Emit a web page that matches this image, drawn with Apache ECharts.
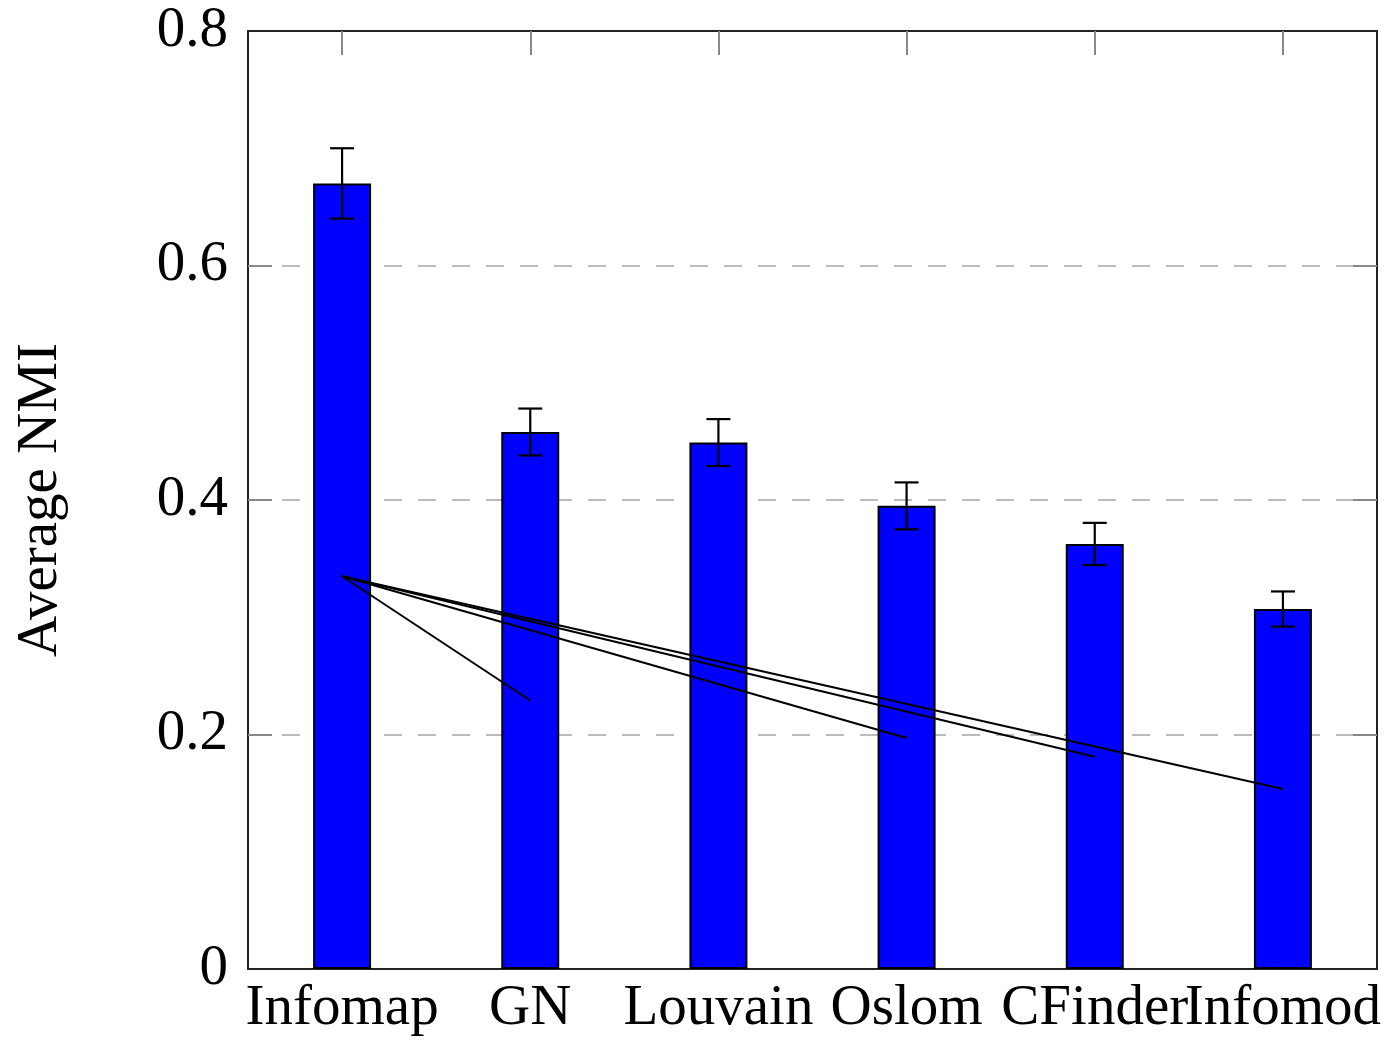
<!DOCTYPE html>
<html>
<head>
<meta charset="utf-8">
<script src="https://cdn.jsdelivr.net/npm/echarts@6/dist/echarts.min.js"></script>
<style>html,body{margin:0;padding:0;background:#fff;}#c{width:1388px;height:1042px;}</style>
</head>
<body>
<div id="c"></div>
<script>
var categories = ['Infomap', 'GN', 'Louvain', 'Oslom', 'CFinder', 'Infomod'];
var nmiValues = [0.670, 0.458, 0.449, 0.395, 0.3625, 0.307];
var nmiErrors = [0.030, 0.020, 0.020, 0.020, 0.018, 0.015];
var yTicks = [0, 0.2, 0.4, 0.6, 0.8];
var yInnerTicks = [0.2, 0.4, 0.6];
var lineStart = { cat: 'Infomap', value: 0.335 };
var lineEnds = [
  { cat: 'GN', value: 0.229 },
  { cat: 'Oslom', value: 0.197 },
  { cat: 'CFinder', value: 0.181 },
  { cat: 'Infomod', value: 0.1535 }
];

var FONT = '"Liberation Serif", "DejaVu Serif", serif';
var chart = echarts.init(document.getElementById('c'));

var lineSeries = lineEnds.map(function (e) {
  return {
    type: 'line',
    data: [[lineStart.cat, lineStart.value], [e.cat, e.value]],
    symbol: 'none',
    lineStyle: { color: '#000', width: 2 },
    z: 5,
    silent: true
  };
});

var errData = categories.map(function (c, i) {
  return [i, nmiValues[i] - nmiErrors[i], nmiValues[i] + nmiErrors[i]];
});

function fmt(v) {
  if (v === 0) return '0';
  return String(Math.round(v * 10) / 10);
}

var AXIS_LINE = { show: true, onZero: false, lineStyle: { color: '#222', width: 2 } };

chart.setOption({
  animation: false,
  grid: { left: 248, right: 11, top: 31, bottom: 73, show: false },
  xAxis: [
    {
      type: 'category',
      data: categories,
      position: 'bottom',
      axisLine: AXIS_LINE,
      axisTick: { show: false },
      axisLabel: { fontFamily: FONT, fontSize: 57, color: '#000', margin: 12, interval: 0 },
      splitLine: { show: false }
    },
    {
      type: 'category',
      data: categories,
      position: 'top',
      axisLine: AXIS_LINE,
      axisTick: { show: true, inside: true, length: 24, alignWithLabel: true, lineStyle: { color: '#888', width: 2 } },
      axisLabel: { show: false },
      splitLine: { show: false }
    }
  ],
  yAxis: [
    {
      type: 'value',
      min: yTicks[0], max: yTicks[yTicks.length - 1], interval: 0.2,
      position: 'left',
      name: 'Average NMI',
      nameLocation: 'middle',
      nameGap: 178,
      nameRotate: 90,
      nameTextStyle: { fontFamily: FONT, fontSize: 57, color: '#000' },
      axisLine: AXIS_LINE,
      axisTick: { show: true, inside: true, length: 24, customValues: yInnerTicks, lineStyle: { color: '#888', width: 2 } },
      axisLabel: { fontFamily: FONT, fontSize: 57, color: '#000', margin: 20, formatter: fmt },
      splitLine: { show: true, lineStyle: { color: '#bbb', width: 2, type: [18, 16] } }
    },
    {
      type: 'value',
      min: yTicks[0], max: yTicks[yTicks.length - 1], interval: 0.2,
      position: 'right',
      axisLine: AXIS_LINE,
      axisTick: { show: true, inside: true, length: 24, customValues: yInnerTicks, lineStyle: { color: '#888', width: 2 } },
      axisLabel: { show: false },
      splitLine: { show: false }
    }
  ],
  series: [
    {
      type: 'bar',
      data: nmiValues,
      barWidth: 58,
      itemStyle: { color: '#0000ff', borderColor: '#000', borderWidth: 2 },
      z: 2
    },
    {
      type: 'custom',
      data: errData,
      z: 4,
      renderItem: function (params, api) {
        var x = api.value(0);
        var lo = api.coord([x, api.value(1)]);
        var hi = api.coord([x, api.value(2)]);
        var half = 12;
        var style = { stroke: '#000', lineWidth: 2.2 };
        return {
          type: 'group',
          children: [
            { type: 'line', shape: { x1: lo[0], y1: lo[1], x2: hi[0], y2: hi[1] }, style: style },
            { type: 'line', shape: { x1: hi[0] - half, y1: hi[1], x2: hi[0] + half, y2: hi[1] }, style: style },
            { type: 'line', shape: { x1: lo[0] - half, y1: lo[1], x2: lo[0] + half, y2: lo[1] }, style: style }
          ]
        };
      }
    }
  ].concat(lineSeries)
});
</script>
</body>
</html>
